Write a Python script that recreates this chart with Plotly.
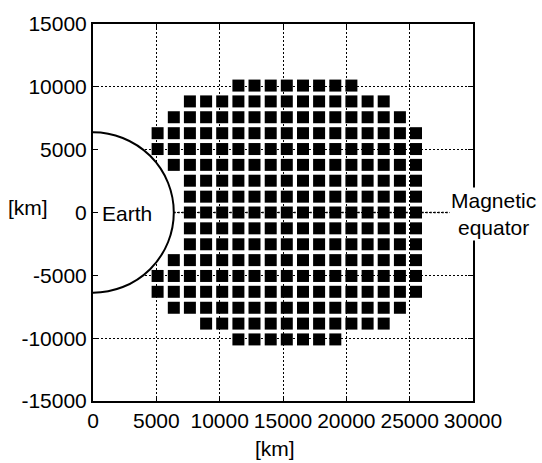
import plotly.graph_objects as go

# Grid of sampling positions in the magnetic meridian plane (km)
col_x_km = [5100, 6380, 7650, 8930, 10200, 11480, 12750, 14030, 15300,
            16580, 17850, 19130, 20400, 21680, 22950, 24230, 25500]
row_y_km = [10100, 8840, 7580, 6310, 5050, 3790, 2530, 1260, 0,
            -1260, -2530, -3790, -5050, -6310, -7580, -8840, -10100]
# '#' marks an occupied cell, one string per row (top to bottom)
row_masks = [
    ".....########....",
    "..#############..",
    ".###############.",
    "#################",
    "#################",
    ".################",
    "..###############",
    "..###############",
    "..###############",
    "..###############",
    "..###############",
    ".################",
    "#################",
    "#################",
    ".###############.",
    "...############..",
    ".....#######.....",
]
earth_radius_km = 6378

tick_vals = [0, 5000, 10000, 15000, 20000, 25000, 30000]
tick_text_x = ["0", "5000", "10000", "15000", "20000", "25000", "30000"]
tick_vals_y = [-15000, -10000, -5000, 0, 5000, 10000, 15000]
tick_text_y = ["-15000", "-10000", "-5000", "0", "5000", "10000", "15000"]

xs, ys = [], []
for y, mask in zip(row_y_km, row_masks):
    for x, c in zip(col_x_km, mask):
        if c == "#":
            xs.append(x)
            ys.append(y)

FONT = "Liberation Sans, Arial, Helvetica, sans-serif"
GRID_DASH = "2px,2px"

fig = go.Figure()

# Magnetic equator: dotted line along y = 0 from the Earth's surface outward
fig.add_trace(go.Scatter(
    x=[earth_radius_km, 30000], y=[0, 0], mode="lines",
    line=dict(color="black", width=1.6, dash=GRID_DASH),
    hoverinfo="skip", showlegend=False,
))

fig.add_trace(go.Scatter(
    x=xs, y=ys, mode="markers",
    marker=dict(symbol="square", size=12, color="black", line=dict(width=0)),
    hoverinfo="skip", showlegend=False,
))

# Earth: white disc that hides the grid, clipped at x = 0
fig.add_shape(type="circle", xref="x", yref="y",
              x0=-earth_radius_km, x1=earth_radius_km,
              y0=-earth_radius_km, y1=earth_radius_km,
              line=dict(color="black", width=2), fillcolor="white",
              layer="between")

axis_common = dict(
    showgrid=True, gridcolor="black", gridwidth=1, griddash=GRID_DASH,
    zeroline=False, showline=True, linecolor="black", linewidth=2,
    mirror="allticks", ticks="inside", ticklen=5, tickwidth=1, tickcolor="black",
    tickfont=dict(family=FONT, size=21, color="black"),
)

fig.update_xaxes(range=[0, 30000], tickmode="array", tickvals=tick_vals,
                 ticktext=tick_text_x, **axis_common)
fig.update_yaxes(range=[-15000, 15000], tickmode="array", tickvals=tick_vals_y,
                 ticktext=tick_text_y, **axis_common)

fig.add_annotation(text="Earth", x=535, y=-100, xref="x", yref="y",
                   xanchor="left", yanchor="middle", showarrow=False,
                   font=dict(family=FONT, size=21, color="black"))
fig.add_annotation(text="Magnetic<br>equator", x=1.053, y=-150,
                   xref="paper", yref="y", xanchor="center", yanchor="middle",
                   align="center", showarrow=False, bgcolor="white",
                   font=dict(family=FONT, size=21, color="black"))
fig.add_annotation(text="[km]", x=14400, y=-0.127, xref="x", yref="paper",
                   xanchor="center", yanchor="middle", showarrow=False,
                   font=dict(family=FONT, size=21, color="black"))
fig.add_annotation(text="[km]", x=-0.17, y=400, xref="paper", yref="y",
                   xanchor="center", yanchor="middle", showarrow=False,
                   font=dict(family=FONT, size=21, color="black"))

fig.update_layout(
    width=542, height=463,
    margin=dict(l=93, r=69, t=15, b=62),
    paper_bgcolor="white", plot_bgcolor="white",
    showlegend=False,
)

fig.write_html("out.html")
